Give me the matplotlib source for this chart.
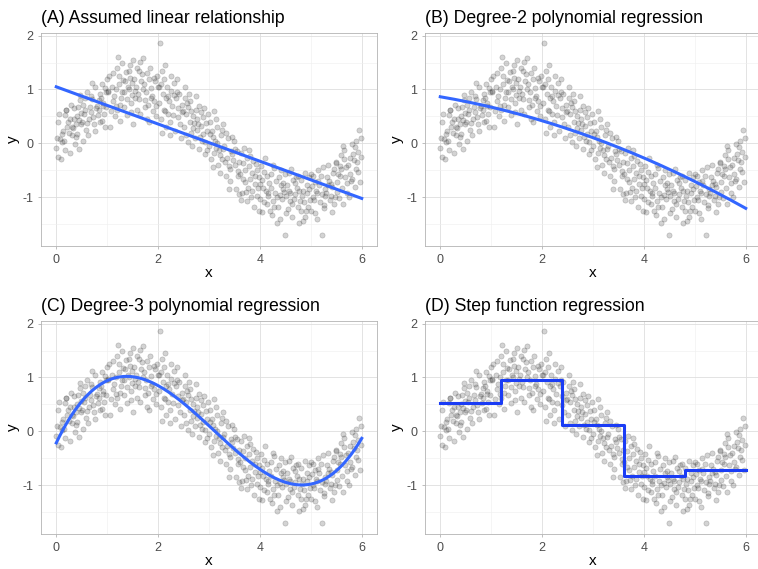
import matplotlib.pyplot as plt
import numpy as np

plt.rcParams['font.family'] = ['Liberation Sans', 'DejaVu Sans']
plt.rcParams['axes.unicode_minus'] = False

# scatter points (same cloud in every panel), grouped by x
pts_00 = [(0.00, -0.08), (0.04, 0.40), (0.09, -0.30), (0.12, 0.18), (0.17, 0.52), (0.15, 0.05), (0.22, 0.30), (0.27, -0.18),
          (0.20, 0.61), (0.31, 0.15), (0.24, 0.40), (0.36, -0.02), (0.29, 0.72), (0.33, 0.28), (0.41, 0.50), (0.44, -0.10),
          (0.38, 0.35), (0.47, 0.80), (0.40, 0.18), (0.49, 0.56), (0.45, 0.43), (0.06, 0.55), (0.01, 0.10), (0.18, -0.12),
          (0.26, 0.46), (0.13, 0.22), (0.35, 0.65), (0.08, 0.08), (0.43, 0.68), (0.30, 0.30), (0.03, -0.25), (0.11, 0.02),
          (0.19, 0.62), (0.25, 0.20), (0.34, 0.45), (0.39, 0.12), (0.46, 0.90), (0.48, 0.35)]
pts_05 = [(0.52, 0.72), (0.58, 0.25), (0.55, 0.55), (0.61, 0.95), (0.50, 0.40), (0.66, 0.68), (0.63, 0.15), (0.71, 0.82),
          (0.69, 0.58), (0.77, 1.05), (0.74, 0.35), (0.80, 0.70), (0.73, 0.48), (0.85, 0.92), (0.83, 0.62), (0.89, 1.10),
          (0.86, 0.40), (0.92, 0.75), (0.97, 0.95), (0.94, 0.55), (0.99, 1.20), (0.91, 0.70), (0.96, 0.30), (0.88, 0.85),
          (0.57, 0.62), (0.60, 0.38), (0.68, 0.88), (0.79, 0.66), (0.82, 0.52), (0.95, 1.02), (0.53, 0.05), (0.64, 0.45),
          (0.70, 1.12), (0.76, 0.22), (0.84, 0.80), (0.90, 0.42), (0.98, 0.68), (0.56, 0.85)]
pts_10 = [(1.02, 0.95), (1.08, 0.60), (1.04, 1.25), (1.12, 0.78), (1.10, 1.05), (1.15, 0.50), (1.13, 0.88), (1.20, 1.40),
          (1.17, 0.70), (1.24, 1.10), (1.22, 1.60), (1.27, 0.85), (1.26, 0.42), (1.31, 1.18), (1.29, 0.95), (1.36, 1.32),
          (1.33, 0.68), (1.40, 1.05), (1.38, 0.82), (1.44, 1.45), (1.42, 1.00), (1.47, 0.58), (1.45, 1.22), (1.49, 0.90),
          (1.48, 1.12), (1.01, 0.98), (1.19, 0.62), (1.30, 1.50), (1.35, 1.15), (1.46, 0.75), (1.06, 0.30), (1.11, 1.30),
          (1.18, 1.00), (1.25, 0.72), (1.34, 0.95), (1.39, 0.52), (1.43, 1.35), (1.23, 1.25)]
pts_15 = [(1.50, 1.55), (1.54, 0.85), (1.52, 1.20), (1.58, 0.62), (1.57, 1.05), (1.62, 1.35), (1.60, 0.92), (1.67, 1.15),
          (1.64, 0.55), (1.70, 1.00), (1.68, 1.28), (1.74, 0.80), (1.72, 1.10), (1.78, 0.45), (1.76, 0.95), (1.82, 1.20),
          (1.80, 0.72), (1.86, 1.02), (1.84, 1.40), (1.90, 0.60), (1.88, 0.88), (1.93, 1.15), (1.92, 0.78), (1.97, 1.25),
          (1.95, 0.50), (1.55, 0.98), (1.65, 1.52), (1.75, 0.68), (1.87, 0.85), (1.99, 1.05), (1.51, 0.35), (1.59, 1.40),
          (1.63, 0.82), (1.71, 1.58), (1.79, 1.30), (1.83, 0.40), (1.91, 1.22), (1.96, 0.70)]
pts_20 = [(2.03, 1.87), (2.01, 0.75), (2.06, 1.10), (2.05, 0.45), (2.09, 0.92), (2.12, 1.20), (2.11, 0.62), (2.15, 0.85),
          (2.18, 1.05), (2.16, 0.30), (2.21, 0.78), (2.20, 0.55), (2.25, 0.98), (2.23, 0.40), (2.28, 0.70), (2.32, 1.12),
          (2.30, 0.52), (2.35, 0.85), (2.34, 0.22), (2.39, 0.65), (2.42, 0.92), (2.40, 0.48), (2.46, 0.72), (2.44, 0.35),
          (2.49, 0.60), (2.08, 1.35), (2.14, 0.60), (2.26, 1.25), (2.37, 0.95), (2.47, 0.58), (2.02, 1.05), (2.07, 0.20),
          (2.13, 1.45), (2.19, 0.88), (2.24, 0.15), (2.31, 0.90), (2.38, 1.20), (2.45, 0.10)]
pts_25 = [(2.52, 0.85), (2.50, 0.30), (2.55, 0.55), (2.54, 0.15), (2.59, 0.68), (2.62, 0.40), (2.60, 0.92), (2.64, 0.20),
          (2.68, 0.50), (2.66, -0.05), (2.71, 0.38), (2.74, 0.62), (2.72, 0.10), (2.77, 0.45), (2.76, 0.25), (2.81, 0.70),
          (2.80, -0.10), (2.84, 0.32), (2.86, 0.05), (2.89, 0.48), (2.88, 0.18), (2.93, -0.20), (2.95, 0.38), (2.92, 0.02),
          (2.98, 0.55), (2.57, 0.75), (2.65, 0.60), (2.79, 0.35), (2.85, 0.58), (2.97, 0.22), (2.53, 1.05), (2.58, 0.02),
          (2.63, 0.78), (2.69, 0.28), (2.75, 0.88), (2.83, 0.12), (2.90, 0.65), (2.96, -0.12)]
pts_30 = [(3.02, 0.40), (3.00, -0.05), (3.05, 0.22), (3.04, -0.30), (3.09, 0.60), (3.12, 0.05), (3.10, -0.18), (3.15, 0.30),
          (3.18, -0.40), (3.16, 0.00), (3.21, -0.22), (3.24, 0.15), (3.22, -0.55), (3.27, -0.10), (3.26, 0.25), (3.31, -0.35),
          (3.30, -0.05), (3.34, -0.60), (3.37, 0.10), (3.36, -0.28), (3.41, -0.48), (3.44, -0.15), (3.42, -0.70), (3.47, -0.32),
          (3.49, 0.05), (3.07, 0.12), (3.14, -0.08), (3.28, 0.35), (3.39, -0.42), (3.46, -0.20), (3.01, 0.18), (3.08, -0.45),
          (3.13, 0.45), (3.19, -0.12), (3.25, -0.30), (3.33, 0.20), (3.40, -0.85), (3.45, 0.12)]
pts_35 = [(3.51, -0.40), (3.53, -0.85), (3.55, -0.15), (3.57, -0.60), (3.59, -0.95), (3.62, -0.18), (3.61, -0.58), (3.66, -0.36),
          (3.64, -0.92), (3.69, -0.08), (3.71, -0.50), (3.70, -0.72), (3.75, -0.28), (3.74, -1.08), (3.79, -0.43), (3.81, -0.66),
          (3.80, -0.23), (3.85, -0.88), (3.84, -0.56), (3.89, -1.18), (3.92, -0.38), (3.90, -0.76), (3.95, -0.50), (3.94, -0.98),
          (3.99, -0.63), (3.56, -0.52), (3.67, -0.66), (3.77, -0.83), (3.86, -0.33), (3.97, -0.83), (3.52, -0.10), (3.58, -0.35),
          (3.63, -1.05), (3.72, -0.90), (3.78, -0.12), (3.83, -1.00), (3.91, -0.60), (3.98, -1.25)]
pts_40 = [(4.02, -0.43), (4.00, -1.03), (4.05, -0.68), (4.04, -1.28), (4.09, -0.53), (4.12, -0.88), (4.10, -0.28), (4.14, -1.13),
          (4.18, -0.73), (4.16, -0.98), (4.21, -0.58), (4.24, -1.33), (4.22, -0.83), (4.27, -0.46), (4.26, -1.08), (4.31, -0.70),
          (4.30, -0.93), (4.34, -1.48), (4.37, -0.63), (4.36, -1.18), (4.41, -0.78), (4.44, -1.03), (4.42, -0.50), (4.47, -0.90),
          (4.49, -1.70), (4.07, -0.83), (4.15, -0.93), (4.28, -1.18), (4.39, -0.96), (4.46, -0.73), (4.01, -0.75), (4.08, -1.10),
          (4.13, -0.60), (4.20, -1.25), (4.25, -0.40), (4.33, -1.00), (4.40, -1.40), (4.45, -0.85)]
pts_45 = [(4.52, -0.98), (4.50, -0.58), (4.55, -1.23), (4.54, -0.78), (4.59, -1.08), (4.62, -0.48), (4.60, -0.93), (4.64, -1.38),
          (4.68, -0.73), (4.66, -1.03), (4.71, -0.63), (4.74, -1.18), (4.72, -0.83), (4.77, -1.48), (4.76, -0.88), (4.81, -0.68),
          (4.80, -1.25), (4.84, -0.88), (4.86, -1.10), (4.89, -0.55), (4.88, -1.38), (4.93, -0.92), (4.95, -1.18), (4.92, -0.78),
          (4.98, -1.05), (4.57, -0.88), (4.65, -0.68), (4.79, -1.08), (4.85, -1.45), (4.97, -0.85), (4.51, -1.30), (4.58, -0.55),
          (4.63, -1.12), (4.69, -0.95), (4.75, -0.60), (4.83, -0.98), (4.90, -1.25), (4.96, -0.62)]
pts_50 = [(5.02, -0.80), (5.00, -1.25), (5.05, -0.60), (5.04, -1.00), (5.09, -0.72), (5.12, -1.40), (5.10, -0.88), (5.14, -0.50),
          (5.18, -1.10), (5.16, -0.78), (5.21, -0.95), (5.24, -0.45), (5.22, -1.70), (5.27, -0.85), (5.26, -1.15), (5.31, -0.62),
          (5.30, -0.92), (5.34, -0.40), (5.37, -1.05), (5.36, -0.70), (5.41, -1.28), (5.44, -0.55), (5.42, -0.82), (5.47, -1.00),
          (5.49, -0.35), (5.07, -1.05), (5.15, -0.70), (5.28, -0.98), (5.39, -0.75), (5.46, -1.12), (5.01, -0.58), (5.08, -1.30),
          (5.13, -0.92), (5.20, -0.60), (5.25, -1.20), (5.33, -0.78), (5.40, -0.98), (5.45, -0.48)]
pts_55 = [(5.52, -0.72), (5.50, -0.37), (5.55, -1.02), (5.54, -0.57), (5.59, -0.22), (5.62, -0.84), (5.60, -0.47), (5.64, -1.12),
          (5.68, -0.62), (5.66, -0.12), (5.71, -0.74), (5.74, -0.40), (5.72, -0.92), (5.77, -0.27), (5.76, -0.57), (5.81, -0.02),
          (5.80, -0.67), (5.84, -0.32), (5.87, -0.82), (5.89, 0.05), (5.88, -0.47), (5.93, -0.17), (5.95, 0.25), (5.92, -0.54),
          (5.99, 0.10), (5.57, -0.42), (5.65, -0.30), (5.79, -0.70), (5.86, -0.07), (5.97, -0.72), (5.51, -0.90), (5.58, -0.60),
          (5.63, -0.05), (5.70, -0.45), (5.75, -1.00), (5.83, -0.20), (5.91, -0.35), (5.98, -0.25)]

titles = ["(A) Assumed linear relationship", "(B) Degree-2 polynomial regression",
          "(C) Degree-3 polynomial regression", "(D) Step function regression"]
degrees = [1, 2, 3]
step_breaks = [0, 1.2, 2.4, 3.6, 4.8, 6]

all_pts = (pts_00 + pts_05 + pts_10 + pts_15 + pts_20 + pts_25 +
           pts_30 + pts_35 + pts_40 + pts_45 + pts_50 + pts_55)
x = np.array([p[0] for p in all_pts])
y = np.array([p[1] for p in all_pts])

fig = plt.figure(figsize=(7.58, 5.69), dpi=100)
W, H = 758, 569
# panel boxes in pixels: left, top, right, bottom
boxes = [(41, 33, 377, 246), (425, 33, 761, 246),
         (41, 321, 377, 534), (425, 321, 761, 534)]

for i, (l, t, r, b) in enumerate(boxes):
    ax = fig.add_axes([l / W, 1 - b / H, (r - l) / W, (b - t) / H])
    ax.set_xlim(-0.3, 6.3)
    ax.set_ylim(-1.91, 2.05)
    ax.set_xticks([0, 2, 4, 6])
    ax.set_yticks([-1, 0, 1, 2])
    ax.set_xticks([1, 3, 5], minor=True)
    ax.set_yticks([-1.5, -0.5, 0.5, 1.5], minor=True)
    ax.grid(which='major', color='#dedede', lw=0.6)
    ax.grid(which='minor', color='#eeeeee', lw=0.4)
    ax.set_axisbelow(True)
    for s in ax.spines.values():
        s.set_color('#b3b3b3')
        s.set_linewidth(0.6)
    ax.tick_params(which='major', length=2.5, color='#b3b3b3', width=0.6,
                   labelsize=9, labelcolor='#4d4d4d', pad=3)
    ax.tick_params(which='minor', length=0)
    ax.set_xlabel('x', fontsize=11, labelpad=0)
    ax.set_ylabel('y', fontsize=11, labelpad=2)
    ax.set_title(titles[i], loc='left', fontsize=12.7, pad=7)

    ax.scatter(x, y, s=14, color='#3a3a3a', alpha=0.22, edgecolors='#1a1a1a',
               linewidths=0.5, zorder=2)

    if i < 3:
        coef = np.polyfit(x, y, degrees[i])
        xs = np.linspace(0, 6, 200)
        ax.plot(xs, np.polyval(coef, xs), color='#3366ff', lw=2.2, zorder=3)
    else:
        levels = []
        for a, c in zip(step_breaks[:-1], step_breaks[1:]):
            m = (x >= a) & (x < c) if c < 6 else (x >= a) & (x <= c)
            levels.append(y[m].mean())
        ys_step = levels + [levels[-1]]
        ax.step(step_breaks, ys_step, where='post', color='#1a3cf5', lw=2.2, zorder=3)

fig.savefig('out.png', dpi=100)
